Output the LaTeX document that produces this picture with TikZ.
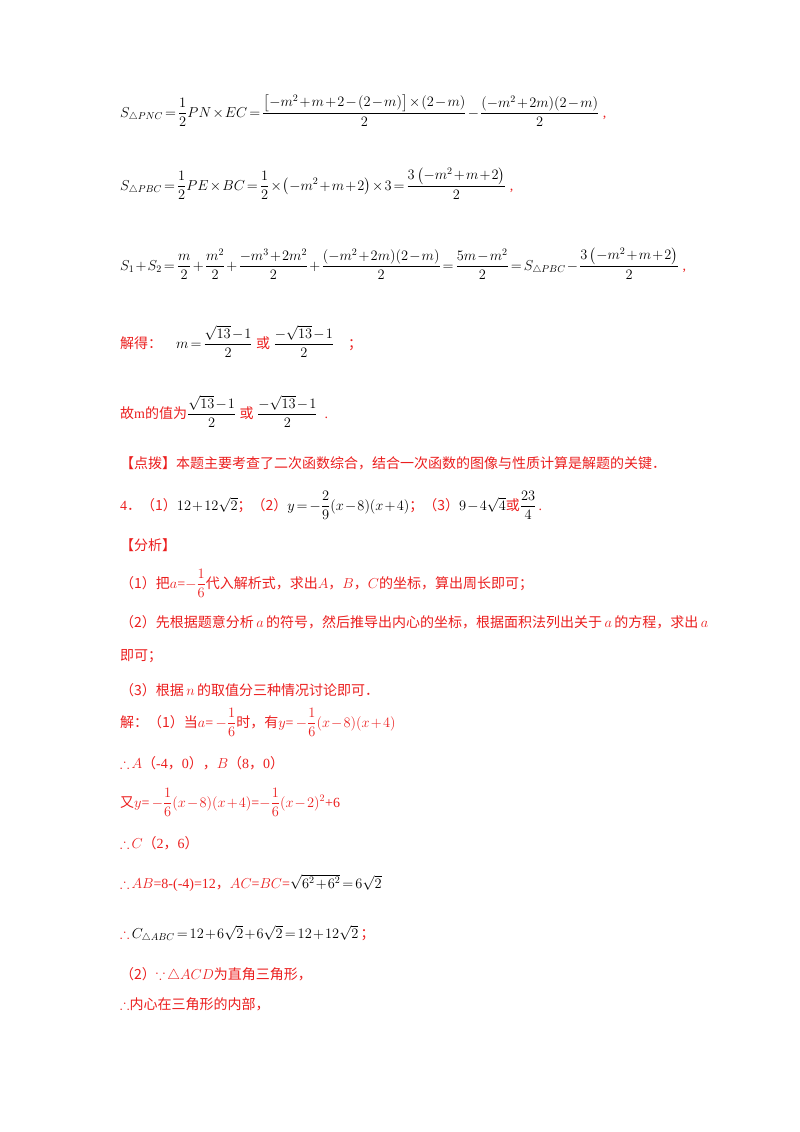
\documentclass[tikz,border=0pt]{standalone}
\usepackage{amsmath,amssymb}
\usepackage{fontspec}
\setmainfont{Liberation Serif}
\newfontfamily\cjk{Noto Sans CJK SC}
\definecolor{rd}{RGB}{235,30,30}
\medmuskip=1.5mu
\thickmuskip=2.5mu
\begin{document}
\begin{tikzpicture}[x=1pt,y=-1pt,
  ln/.style={anchor=base west,inner sep=0pt,font=\fontsize{14}{16}\selectfont},
  rl/.style={ln,text=rd}]
\useasboundingbox (0,0) rectangle (800,1132);
\node[ln] (l1) at (120,117) {$S_{\triangle PNC}=\dfrac12 PN\times EC=\dfrac{\left[-m^2+m+2-(2-m)\right]\times(2-m)}{2}-\dfrac{(-m^2+2m)(2-m)}{2}$\ \textcolor{rd}{,}};
\node[ln] (l2) at (120,190) {$S_{\triangle PBC}=\dfrac12 PE\times BC=\dfrac12\times\left(-m^2+m+2\right)\times3=\dfrac{3\left(-m^2+m+2\right)}{2}$\ \textcolor{rd}{,}};
\node[ln] (l3) at (120,270) {$S_1+S_2=\dfrac m2+\dfrac{m^2}2+\dfrac{-m^3+2m^2}2+\dfrac{(-m^2+2m)(2-m)}{2}=\dfrac{5m-m^2}{2}=S_{\triangle PBC}-\dfrac{3\left(-m^2+m+2\right)}{2}$\ \textcolor{rd}{,}};
\node[rl] (l4) at (120,348) {{\cjk 解得：}\quad\textcolor{black}{$m=\dfrac{\sqrt{13}-1}{2}$}\ {\cjk 或}\ \textcolor{black}{$\dfrac{-\sqrt{13}-1}{2}$}\quad{\cjk ；}};
\node[rl] (l5) at (120,418) {{\cjk 故}m{\cjk 的值为}\textcolor{black}{$\dfrac{\sqrt{13}-1}{2}$}\ {\cjk 或}\ \textcolor{black}{$\dfrac{-\sqrt{13}-1}{2}$}\ \ .};
\node[rl] (l6) at (120,468) {\cjk 【点拨】本题主要考查了二次函数综合，结合一次函数的图像与性质计算是解题的关键．};
\node[rl] (l7) at (120,510) {4{\cjk ．（1）}\textcolor{black}{$12+12\sqrt2$}{\cjk ；（2）}\textcolor{black}{$y=-\dfrac29(x-8)(x+4)$}{\cjk ；（3）}\textcolor{black}{$9-4\sqrt4$}{\cjk 或}\textcolor{black}{$\dfrac{23}{4}$}\,.};
\node[rl] (l8) at (120,550) {\cjk 【分析】};
\node[rl] (l9) at (120,588) {{\cjk （1）把}$a$=$-\dfrac16${\cjk 代入解析式，求出}$A${\cjk ，}$B${\cjk ，}$C${\cjk 的坐标，算出周长即可；}};
\node[rl] (l10) at (120,627) {{\cjk （2）先根据题意分析}$\,a\,${\cjk 的符号，然后推导出内心的坐标，根据面积法列出关于}$\,a\,${\cjk 的方程，求出}$\,a$};
\node[rl] (l11) at (120,660) {\cjk 即可；};
\node[rl] (l12) at (120,695) {{\cjk （3）根据}$\,n\,${\cjk 的取值分三种情况讨论即可．}};
\node[rl] (l13) at (120,727) {{\cjk 解：（1）当}$a$=\,$-\dfrac16${\cjk 时，有}$y$=\,$-\dfrac16(x-8)(x+4)$};
\node[rl] (l14) at (120,768) {$\therefore A${\cjk （}-4{\cjk ，}0{\cjk ），}$B${\cjk （}8{\cjk ，}0{\cjk ）}};
\node[rl] (l15) at (120,807) {{\cjk 又}$y$=\,$-\dfrac16(x-8)(x+4)$=$-\dfrac16(x-2)^2$+6};
\node[rl] (l16) at (120,848) {$\therefore C${\cjk （}2{\cjk ，}6{\cjk ）}};
\node[rl] (l17) at (120,888) {$\therefore AB$=8-(-4)=12{\cjk ，}$AC$=$BC$=\textcolor{black}{$\sqrt{6^2+6^2}=6\sqrt2$}};
\node[rl] (l18) at (120,938) {$\therefore$\,\textcolor{black}{$C_{\triangle ABC}=12+6\sqrt2+6\sqrt2=12+12\sqrt2$}\,{\cjk ；}};
\node[rl] (l19) at (120,979) {{\cjk （2）}$\because\triangle ACD${\cjk 为直角三角形，}};
\node[rl] (l20) at (120,1009) {$\therefore${\cjk 内心在三角形的内部，}};
\end{tikzpicture}
\end{document}
